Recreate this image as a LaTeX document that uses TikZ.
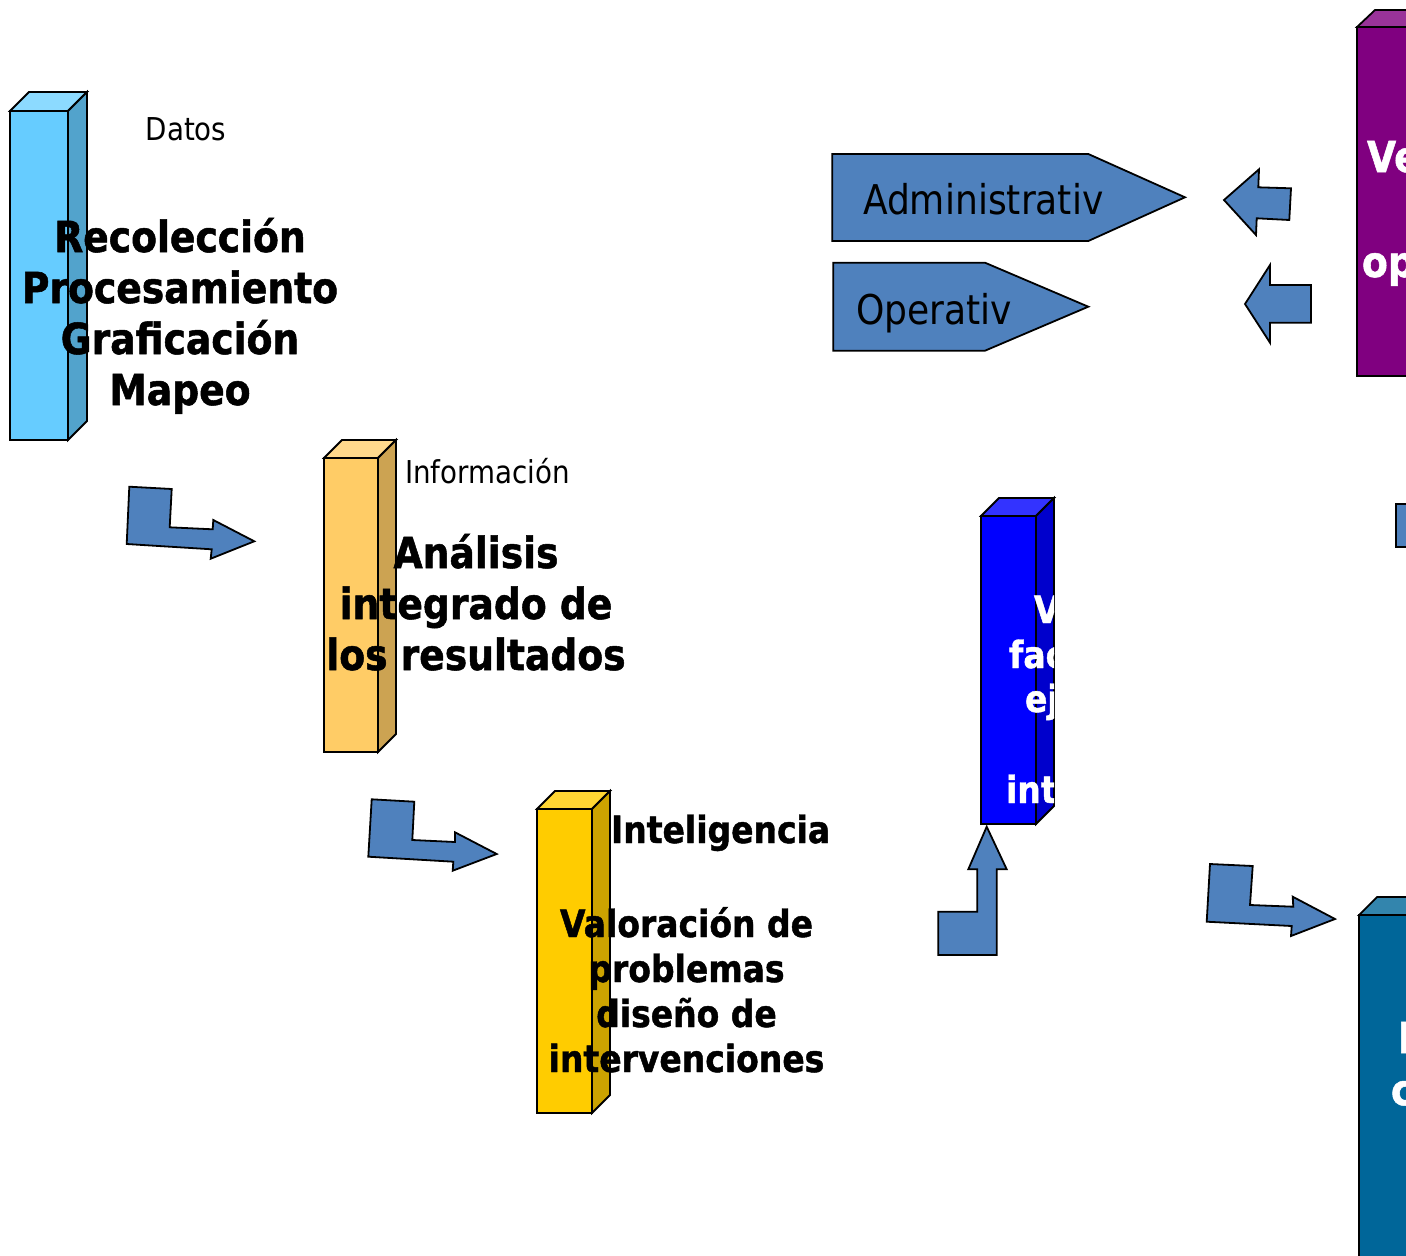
\documentclass[tikz,border=0pt]{standalone}
\usepackage{fontspec}
\setmainfont{DejaVu Sans}[FakeStretch=0.88,BoldFeatures={FakeBold=1.2}]
\definecolor{arrowblue}{HTML}{4F81BD}
\definecolor{skyF}{HTML}{66CCFF}
\definecolor{skyT}{HTML}{8CDAFF}
\definecolor{skyS}{HTML}{52A3CC}
\definecolor{orF}{HTML}{FFCC66}
\definecolor{orT}{HTML}{FFD98C}
\definecolor{orS}{HTML}{CCA352}
\definecolor{yeF}{HTML}{FFCC00}
\definecolor{yeT}{HTML}{FFD633}
\definecolor{yeS}{HTML}{CCA300}
\definecolor{blF}{HTML}{0000FF}
\definecolor{blT}{HTML}{3333FF}
\definecolor{blS}{HTML}{0000CC}
\definecolor{puF}{HTML}{800080}
\definecolor{puT}{HTML}{993399}
\definecolor{teF}{HTML}{006699}
\definecolor{teT}{HTML}{3385AD}
\newcommand{\fBig}{\fontsize{42.8}{51}\selectfont\bfseries}
\newcommand{\fMid}{\fontsize{37.5}{45}\selectfont\bfseries}
\newcommand{\fSmall}{\fontsize{31.5}{38}\selectfont}
\newcommand{\fTag}{\fontsize{41}{49}\selectfont}
\begin{document}
\begin{tikzpicture}[x=1pt,y=-1pt,
  outl/.style={draw=black,line width=1.8pt,line join=miter},
  barrow/.style={outl,fill=arrowblue},
  txt/.style={inner sep=0pt,outer sep=0pt},
  lineC/.style={txt,anchor=base},
  lineL/.style={txt,anchor=base west}]
\useasboundingbox (0,0) rectangle (1406,1256);
\clip (0,0) rectangle (1406,1256);
\fill[white] (0,0) rectangle (1406,1256);

% ---- column 1 (light blue)
\draw[outl,fill=skyF] (10,111) rectangle (68,440);
\draw[outl,fill=skyT] (10,111) -- (29,92) -- (87,92) -- (68,111) -- cycle;
\draw[outl,fill=skyS] (68,111) -- (87,92) -- (87,421) -- (68,440) -- cycle;

% ---- column 2 (orange)
\draw[outl,fill=orF] (324,458) rectangle (378,752);
\draw[outl,fill=orT] (324,458) -- (342,440) -- (396,440) -- (378,458) -- cycle;
\draw[outl,fill=orS] (378,458) -- (396,440) -- (396,734) -- (378,752) -- cycle;

% ---- column 3 (yellow)
\draw[outl,fill=yeF] (537,809) rectangle (592,1113);
\draw[outl,fill=yeT] (537,809) -- (555,791) -- (610,791) -- (592,809) -- cycle;
\draw[outl,fill=yeS] (592,809) -- (610,791) -- (610,1095) -- (592,1113) -- cycle;

% ---- column 4 (blue)
\draw[outl,fill=blF] (981,516) rectangle (1036,824);
\draw[outl,fill=blT] (981,516) -- (999,498) -- (1054,498) -- (1036,516) -- cycle;
\draw[outl,fill=blS] (1036,516) -- (1054,498) -- (1054,806) -- (1036,824) -- cycle;

% ---- column 5 (purple, cut by the edge)
\draw[outl,fill=puF] (1357,27) rectangle (1470,376);
\draw[outl,fill=puT] (1357,27) -- (1375,10) -- (1490,10) -- (1470,27) -- cycle;

% ---- column 6 (teal, cut by the edge)
\draw[outl,fill=teF] (1359,915) rectangle (1470,1300);
\draw[outl,fill=teT] (1359,915) -- (1377,897) -- (1490,897) -- (1470,915) -- cycle;

% ---- small shape at right edge
\draw[barrow] (1396,504) rectangle (1440,547);

% ---- bent arrows
\draw[barrow] (129.3,486.7) -- (171.7,489) -- (169.7,527.3) -- (212.7,529.3) -- (213.3,520)
  -- (254.3,541.3) -- (210.7,558.7) -- (211.7,549.3) -- (126.7,544) -- cycle;
\draw[barrow] (371.7,799.3) -- (414.3,801.7) -- (412.3,840) -- (455,842) -- (455,832.3)
  -- (496.7,854) -- (452.7,870.7) -- (453.3,861.7) -- (368.3,856.7) -- cycle;
\draw[barrow] (986.7,826.7) -- (1006.7,869.3) -- (996.7,869.3) -- (996.7,955) -- (938.3,955)
  -- (938.3,911.7) -- (977.3,911.7) -- (977.3,869.3) -- (968.3,869.3) -- cycle;
\draw[barrow] (1210,864) -- (1252.7,866) -- (1250,905) -- (1293.3,906.7) -- (1292.7,896.7)
  -- (1335,919) -- (1291,936) -- (1291.7,926) -- (1206.7,921.7) -- cycle;

% ---- left arrows
\draw[barrow] (1224,200) -- (1259,169.3) -- (1258.3,187.3) -- (1291,188.3) -- (1289.3,220)
  -- (1256.7,218.3) -- (1256,235) -- cycle;
\draw[barrow] (1245,304) -- (1270,265) -- (1270,285) -- (1311,285) -- (1311,322.7)
  -- (1270,322.7) -- (1270,342.7) -- cycle;

% ---- pentagons
\draw[barrow] (832.3,154) -- (1088.3,154) -- (1185,197.3) -- (1088.3,241) -- (832.3,241) -- cycle;
\draw[barrow] (833.3,262.7) -- (985,262.7) -- (1088.3,306.7) -- (985,350.7) -- (833.3,350.7) -- cycle;
\node[lineL,font=\fTag] (adm) at (863,214) {Administrativ};
\node[lineL,font=\fTag] (ope) at (856,324) {Operativ};

% ---- texts column 1
\node[lineC,font=\fSmall] (datos) at (186,140) {Datos};
\node[lineC,font=\fBig] (t1a) at (180,252) {Recolección};
\node[lineC,font=\fBig] (t1b) at (180,303) {Procesamiento};
\node[lineC,font=\fBig] (t1c) at (180,354) {Graficación};
\node[lineC,font=\fBig] (t1d) at (180,405) {Mapeo};

% ---- texts column 2
\node[lineL,font=\fSmall] (info) at (405,483) {Información};
\node[lineC,font=\fBig] (t2a) at (476,568) {Análisis};
\node[lineC,font=\fBig] (t2b) at (476,619) {integrado de};
\node[lineC,font=\fBig] (t2c) at (476,670) {los resultados};

% ---- texts column 3
\node[lineL,font=\fMid] (intel) at (611,843) {Inteligencia};
\node[lineC,font=\fMid] (t3a) at (686.5,937) {Valoración de};
\node[lineC,font=\fMid] (t3b) at (686.5,982) {problemas};
\node[lineC,font=\fMid] (t3c) at (686.5,1027) {diseño de};
\node[lineC,font=\fMid] (t3d) at (686.5,1072) {intervenciones};

% ---- texts column 4 (cut at the side of the column)
\begin{scope}
\clip (900,480) rectangle (1054,830);
\node[lineL,font=\fMid,text=white] (t4a) at (1034,623) {V};
\node[lineL,font=\fMid,text=white] (t4b) at (1009,668) {fac};
\node[lineL,font=\fMid,text=white] (t4c) at (1025,712) {ej};
\node[lineL,font=\fMid,text=white] (t4d) at (1006,803) {int};
\end{scope}

% ---- texts purple and teal (cut by the edge, as in the reference)
\node[lineL,font=\fBig,text=white] (t5a) at (1367,172) {Ve};
\node[lineL,font=\fBig,text=white] (t5b) at (1362,277) {op};
\node[lineL,font=\fBig,text=white] (t6a) at (1398,1053) {I};
\node[lineL,font=\fBig,text=white] (t6b) at (1391,1105) {c};
\end{tikzpicture}
\end{document}
